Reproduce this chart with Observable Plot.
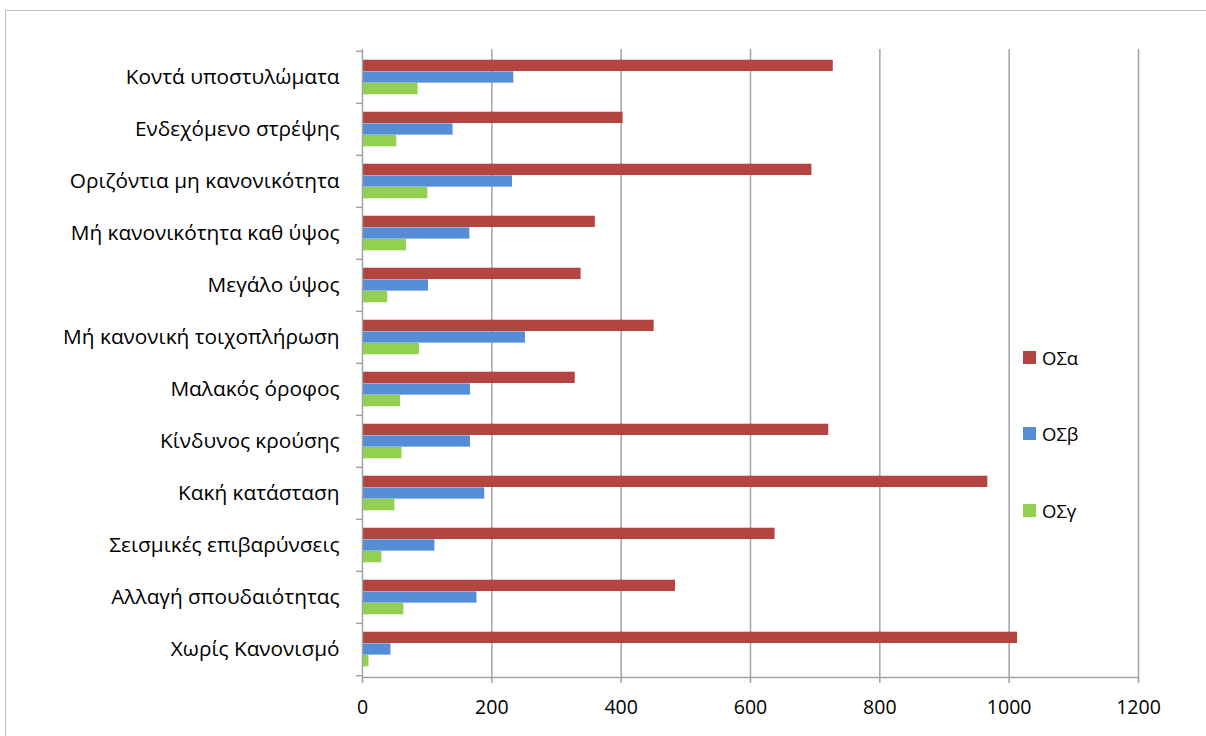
<!DOCTYPE html>
<html>
<head>
<meta charset="utf-8">
<script src="https://cdn.jsdelivr.net/npm/d3@7"></script>
<script src="https://cdn.jsdelivr.net/npm/@observablehq/plot@0.6"></script>
<style>
  html, body { margin: 0; padding: 0; background: #fff; overflow: hidden; width: 1206px; height: 736px; }
  #wrap { position: relative; width: 1206px; height: 736px; }
  #border { position: absolute; left: 5px; top: 10px; width: 1300px; height: 800px; border: 1.5px solid #bdbdbd; pointer-events: none; }
  #legend { position: absolute; left: 1023px; top: 0; font-family: "Open Sans", sans-serif; font-size: 18.5px; color: #000; }
  .item { position: absolute; left: 0; display: flex; align-items: center; white-space: nowrap; }
  .sw { width: 13px; height: 13px; margin-right: 6px; }
</style>
</head>
<body>
<div id="wrap"><div id="chart"></div><div id="legend"></div><div id="border"></div></div>
<script>
const categories = [
  "Κοντά υποστυλώματα",
  "Ενδεχόμενο στρέψης",
  "Οριζόντια μη κανονικότητα",
  "Μή κανονικότητα καθ ύψος",
  "Μεγάλο ύψος",
  "Μή κανονική τοιχοπλήρωση",
  "Μαλακός όροφος",
  "Κίνδυνος κρούσης",
  "Κακή κατάσταση",
  "Σεισμικές επιβαρύνσεις",
  "Αλλαγή σπουδαιότητας",
  "Χωρίς Κανονισμό"
];
const seriesNames = ["ΟΣα", "ΟΣβ", "ΟΣγ"];
const osa = [728, 403, 695, 360, 338, 451, 329, 721, 967, 638, 484, 1013];
const osb = [234, 140, 232, 166, 102, 252, 167, 167, 189, 112, 177, 44];
const osg = [86, 53, 101, 68, 39, 88, 59, 61, 50, 30, 64, 10];
const xTicks = [0, 200, 400, 600, 800, 1000, 1200];

const seriesColors = ["#B3443F", "#558ED5", "#92D050"];
const seriesValues = [osa, osb, osg];

const W = 1206, H = 736, mt = 49, mb = 59, ml = 362, mr = 68;
const n = categories.length;
const step = (H - mt - mb) / n;
const group = step * 0.667;
const barH = group / 3;
const pad = (step - group) / 2;
const axisColor = "#a3a3a3";

const barMarks = seriesValues.map((vals, s) => {
  const data = categories.map((c, i) => ({category: c, value: vals[i]}));
  const top = pad + s * barH;
  return Plot.barX(data, {
    x: "value", y: "category", fill: seriesColors[s],
    insetTop: top, insetBottom: step - top - barH
  });
});

const chart = Plot.plot({
  width: W, height: H,
  marginLeft: ml, marginRight: mr, marginTop: mt, marginBottom: mb,
  style: {fontFamily: "'Open Sans', sans-serif", fontSize: "18px", color: "#000", background: "transparent"},
  x: {domain: [0, 1200]},
  y: {domain: categories, padding: 0},
  marks: [
    Plot.gridX({ticks: xTicks.slice(1), stroke: axisColor, strokeOpacity: 1, strokeWidth: 1.5}),
    ...barMarks,
    Plot.ruleX([0], {stroke: axisColor, strokeWidth: 1.5}),
    Plot.frame({anchor: "bottom", stroke: axisColor, strokeWidth: 1.5}),
    Plot.axisX({ticks: xTicks, tickFormat: d => String(d), tickSize: 6, tickPadding: 17, fontSize: 19.5, stroke: axisColor, strokeWidth: 1.5, label: null}),
    Plot.axisY({tickSize: 0, tickPadding: 23, fontSize: 20.8, label: null}),
    Plot.axisY({tickSize: 6, tickFormat: () => "", dy: -step / 2, stroke: axisColor, strokeWidth: 1.5, label: null}),
    Plot.axisY({ticks: [categories[n - 1]], tickSize: 6, tickFormat: () => "", dy: step / 2, stroke: axisColor, strokeWidth: 1.5, label: null})
  ]
});
document.getElementById("chart").appendChild(chart);

const legend = document.getElementById("legend");
const legendCenters = [357, 433, 510];
seriesNames.forEach((name, i) => {
  const item = document.createElement("div");
  item.className = "item";
  item.style.top = (legendCenters[i] - 13) + "px";
  item.style.height = "26px";
  const sw = document.createElement("span");
  sw.className = "sw";
  sw.style.background = seriesColors[i];
  const t = document.createElement("span");
  t.textContent = name;
  item.appendChild(sw);
  item.appendChild(t);
  legend.appendChild(item);
});
</script>
</body>
</html>
